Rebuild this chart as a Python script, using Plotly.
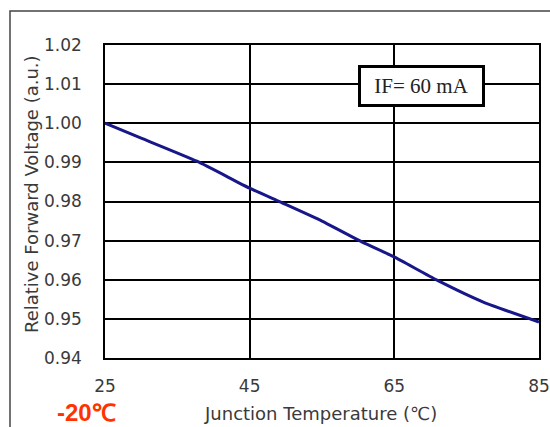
import plotly.graph_objects as go

# Data
temperature_c = [25, 30, 37.7, 45, 49.2, 55, 60.5, 64.9, 70.9, 77.3, 85]
relative_vf = [1.000, 0.9962, 0.9903, 0.9834, 0.9799, 0.9750, 0.9697, 0.9659, 0.9599, 0.9543, 0.9492]
x_ticks = [25, 45, 65, 85]
y_ticks = [0.94, 0.95, 0.96, 0.97, 0.98, 0.99, 1.00, 1.01, 1.02]
y_tick_labels = ["0.94", "0.95", "0.96", "0.97", "0.98", "0.99", "1.00", "1.01", "1.02"]

W, H = 550, 427
L, R, T, B = 105, 11, 45, 69
pw, ph = W - L - R, H - T - B

def px(x):
    return (x - L) / pw

def py(y):
    return (H - B - y) / ph

fig = go.Figure()
fig.add_trace(go.Scatter(
    x=temperature_c, y=relative_vf, mode="lines",
    line=dict(color="#17178a", width=3, shape="spline", smoothing=0.5),
    showlegend=False, hoverinfo="skip",
))

tick_font = dict(family="DejaVu Sans", size=17, color="#3a3a3a")
title_font = dict(family="DejaVu Sans", size=18, color="#3a3a3a")

fig.update_layout(
    width=W, height=H,
    margin=dict(l=L, r=R, t=T, b=B, pad=0, autoexpand=False),
    paper_bgcolor="white", plot_bgcolor="white",
    xaxis=dict(
        range=[25, 85], tickvals=x_ticks, ticktext=[str(v) for v in x_ticks],
        showgrid=True, gridcolor="black", gridwidth=1.5,
        showline=True, linecolor="black", linewidth=1.5, mirror=True,
        ticks="", ticklabelstandoff=12, tickfont=tick_font, zeroline=False,
        automargin=False,
    ),
    yaxis=dict(
        range=[0.94, 1.02], tickvals=y_ticks, ticktext=y_tick_labels,
        showgrid=True, gridcolor="black", gridwidth=1.5,
        showline=True, linecolor="black", linewidth=1.5, mirror=True,
        ticks="", ticklabelstandoff=18, tickfont=tick_font, zeroline=False,
        automargin=False,
    ),
    shapes=[
        dict(type="path", xref="paper", yref="paper",
             path=f"M {px(10)},{py(440)} L {px(10)},{py(11)} L {px(560)},{py(11)}",
             line=dict(color="#444444", width=1.5)),
    ],
    annotations=[
        dict(text="IF= 60 mA", x=68.75, y=1.0095, xref="x", yref="y",
             showarrow=False, font=dict(family="Liberation Serif", size=21, color="#222222"),
             bgcolor="white", bordercolor="black", borderwidth=3, borderpad=0,
             width=121, height=36),
        dict(text="Junction Temperature (℃)", x=px(320), y=py(413), xref="paper", yref="paper",
             showarrow=False, font=title_font, xanchor="center", yanchor="middle"),
        dict(text="Relative Forward Voltage (a.u.)", x=px(31), y=py(194), xref="paper", yref="paper",
             showarrow=False, textangle=-90, font=title_font, xanchor="center", yanchor="middle"),
        dict(text="<b>-20℃</b>", x=px(86), y=py(412), xref="paper", yref="paper",
             showarrow=False, font=dict(family="Liberation Sans", size=24, color="#ff3300"),
             xanchor="center", yanchor="middle"),
    ],
)

fig.write_html("out.html", config={"displayModeBar": False},
               post_script="document.body.style.margin='0';")
